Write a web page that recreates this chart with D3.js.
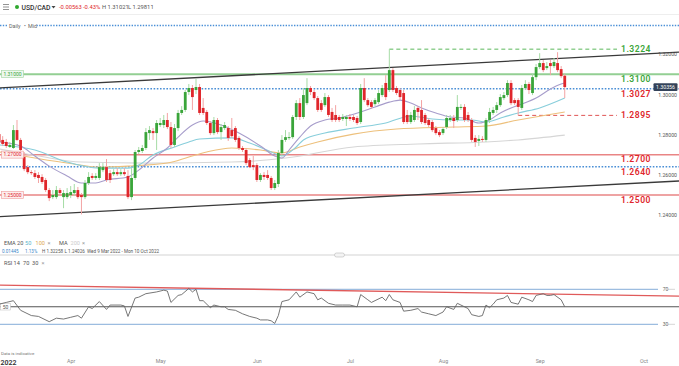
<!DOCTYPE html><html><head><meta charset="UTF-8"><script src="https://d3js.org/d3.v7.min.js"></script><style>
body { margin: 0; background: #fff; }
#chart { width: 679px; height: 366px; }
text { font-family: Roboto, "Liberation Sans", Arial, sans-serif; }
</style></head><body><div id="chart"></div><script>
// daily candles, 9 Mar 2022 onward (Sunday bars included): [open, high, low, close]
const ohlc = [
  [1.2802,1.2882,1.2753,1.2763],[1.2773,1.2792,1.2743,1.2753],[1.2763,1.2778,1.2733,1.2743],[1.2738,1.2763,1.2733,1.2748],
  [1.2733,1.2847,1.2728,1.2822],[1.2822,1.2872,1.2768,1.2773],[1.2773,1.2783,1.2713,1.2723],[1.2688,1.2713,1.2618,1.2628],
  [1.2638,1.2648,1.2603,1.2613],[1.2613,1.2623,1.2599,1.2608],[1.2608,1.2623,1.2579,1.2589],[1.2599,1.2613,1.2559,1.2584],
  [1.2589,1.2603,1.2554,1.2564],[1.2574,1.2584,1.2514,1.2524],[1.2524,1.2534,1.2469,1.2484],[1.2489,1.2524,1.2479,1.2499],
  [1.2489,1.2544,1.2479,1.2524],[1.2524,1.2534,1.2494,1.2509],[1.2489,1.2524,1.2434,1.2509],[1.2489,1.2534,1.2479,1.2509],
  [1.2499,1.2544,1.2484,1.2514],[1.2509,1.2554,1.2494,1.2524],[1.2524,1.2539,1.2479,1.2489],[1.2499,1.2509,1.2403,1.2489],
  [1.2489,1.2574,1.2479,1.2559],[1.2559,1.2613,1.2549,1.2589],[1.2594,1.2608,1.2574,1.2584],[1.2584,1.2608,1.2574,1.2594],
  [1.2584,1.2658,1.2574,1.2638],[1.2623,1.2658,1.2613,1.2638],[1.2638,1.2678,1.2564,1.2574],[1.2608,1.2623,1.2559,1.2574],
  [1.2603,1.2628,1.2594,1.2613],[1.2613,1.2633,1.2594,1.2603],[1.2603,1.2628,1.2594,1.2613],[1.2613,1.2633,1.2594,1.2603],
  [1.2594,1.2623,1.2479,1.2489],[1.2489,1.2633,1.2474,1.2584],[1.2584,1.2723,1.2574,1.2713],[1.2713,1.2738,1.2703,1.2723],
  [1.2718,1.2748,1.2708,1.2733],[1.2733,1.2832,1.2723,1.2812],[1.2807,1.2842,1.2773,1.2822],[1.2817,1.2832,1.2773,1.2807],
  [1.2807,1.2872,1.2723,1.2857],[1.2847,1.2882,1.2837,1.2857],[1.2847,1.2897,1.2832,1.2872],[1.2872,1.2907,1.2827,1.2837],
  [1.2837,1.2862,1.2733,1.2748],[1.2748,1.2852,1.2738,1.2832],[1.2832,1.2922,1.2817,1.2907],[1.2907,1.2941,1.2897,1.2922],
  [1.2922,1.3021,1.2912,1.3011],[1.3011,1.3051,1.2996,1.3031],[1.3031,1.3046,1.2922,1.2986],[1.3021,1.3076,1.3001,1.3036],
  [1.3036,1.3051,1.2897,1.2907],[1.2932,1.2981,1.2897,1.2907],[1.2912,1.2922,1.2847,1.2857],[1.2857,1.2867,1.2797,1.2807],
  [1.2807,1.2887,1.2797,1.2872],[1.2872,1.2882,1.2802,1.2812],[1.2812,1.2852,1.2773,1.2837],[1.2832,1.2862,1.2822,1.2847],
  [1.2832,1.2842,1.2768,1.2783],[1.2822,1.2882,1.2783,1.2792],[1.2832,1.2842,1.2763,1.2773],[1.2783,1.2792,1.2723,1.2733],
  [1.2733,1.2743,1.2713,1.2723],[1.2723,1.2733,1.2648,1.2658],[1.2673,1.2683,1.2633,1.2638],[1.2648,1.2693,1.2623,1.2638],
  [1.2648,1.2658,1.2564,1.2574],[1.2574,1.2608,1.2564,1.2599],[1.2599,1.2613,1.2574,1.2589],[1.2599,1.2623,1.2574,1.2584],
  [1.2584,1.2594,1.2524,1.2534],[1.2534,1.2574,1.2524,1.2559],[1.2554,1.2723,1.2539,1.2708],[1.2708,1.2797,1.2693,1.2773],
  [1.2773,1.2822,1.2763,1.2787],[1.2783,1.2812,1.2773,1.2787],[1.2787,1.2897,1.2778,1.2887],[1.2887,1.2971,1.2872,1.2956],
  [1.2956,1.2981,1.2872,1.2887],[1.2887,1.3031,1.2877,1.2996],[1.2956,1.3080,1.2946,1.3031],[1.3031,1.3041,1.2996,1.3011],
  [1.3011,1.3021,1.2971,1.2981],[1.2981,1.2991,1.2912,1.2922],[1.2956,1.2971,1.2912,1.2922],[1.2946,1.3006,1.2937,1.2986],
  [1.2986,1.2996,1.2887,1.2897],[1.2912,1.2932,1.2862,1.2872],[1.2897,1.2946,1.2862,1.2872],[1.2887,1.2897,1.2862,1.2872],
  [1.2877,1.2902,1.2867,1.2887],[1.2877,1.2897,1.2842,1.2887],[1.2887,1.2902,1.2867,1.2877],[1.2887,1.2897,1.2862,1.2872],
  [1.2882,1.2892,1.2847,1.2857],[1.2862,1.3051,1.2852,1.3031],[1.3031,1.3080,1.2961,1.2971],[1.2971,1.2981,1.2937,1.2946],
  [1.2961,1.2971,1.2927,1.2937],[1.2951,1.2981,1.2941,1.2971],[1.2961,1.3021,1.2951,1.3006],[1.2996,1.3046,1.2986,1.3031],
  [1.3056,1.3095,1.2971,1.2986],[1.3021,1.3224,1.3011,1.3120],[1.3120,1.3130,1.3011,1.3021],[1.3031,1.3041,1.2996,1.3006],
  [1.3021,1.3031,1.2971,1.2986],[1.3006,1.3021,1.2852,1.2862],[1.2897,1.2922,1.2852,1.2862],[1.2862,1.2912,1.2852,1.2897],
  [1.2872,1.2941,1.2862,1.2922],[1.2932,1.2941,1.2872,1.2912],[1.2922,1.2971,1.2852,1.2862],[1.2897,1.2907,1.2847,1.2857],
  [1.2872,1.2882,1.2837,1.2847],[1.2862,1.2872,1.2812,1.2822],[1.2832,1.2842,1.2797,1.2807],[1.2812,1.2822,1.2787,1.2797],
  [1.2807,1.2837,1.2797,1.2827],[1.2837,1.2897,1.2827,1.2882],[1.2872,1.2897,1.2862,1.2882],[1.2882,1.2897,1.2832,1.2867],
  [1.2872,1.2996,1.2862,1.2937],[1.2932,1.2951,1.2922,1.2937],[1.2937,1.2951,1.2862,1.2872],[1.2897,1.2912,1.2862,1.2872],
  [1.2872,1.2882,1.2763,1.2773],[1.2783,1.2797,1.2738,1.2763],[1.2768,1.2797,1.2743,1.2778],[1.2778,1.2792,1.2763,1.2773],
  [1.2773,1.2882,1.2763,1.2872],[1.2872,1.2932,1.2857,1.2912],[1.2907,1.2937,1.2897,1.2922],[1.2922,1.2961,1.2907,1.2946],
  [1.2946,1.3001,1.2937,1.2986],[1.2981,1.3011,1.2971,1.2996],[1.2996,1.3070,1.2986,1.3056],[1.3056,1.3070,1.2946,1.2956],
  [1.2971,1.2981,1.2946,1.2956],[1.2971,1.2981,1.2895,1.2937],[1.2932,1.3046,1.2922,1.3031],[1.3031,1.3070,1.3021,1.3051],
  [1.3051,1.3061,1.3001,1.3021],[1.3006,1.3100,1.2996,1.3085],[1.3085,1.3150,1.3070,1.3135],[1.3135,1.3204,1.3125,1.3155],
  [1.3155,1.3170,1.3110,1.3120],[1.3130,1.3160,1.3120,1.3140],[1.3155,1.3170,1.3095,1.3140],[1.3140,1.3180,1.3130,1.3160],
  [1.3155,1.3209,1.3110,1.3120],[1.3125,1.3140,1.3080,1.3090],[1.30919,1.31021,1.29811,1.30356]
];

// moving averages: [bar index, price]
const ema20 = [[0,1.2763],[6,1.2743],[10,1.2693],[14,1.2643],[19,1.2594],[23,1.2559],[27,1.2559],[30,1.2574],[36,1.2589],[39,1.2623],[43,1.2683],[47,1.2733],[50,1.2787],[54,1.2847],[57,1.2867],[62,1.2847],[67,1.2807],[73,1.2743],[77,1.2693],[79,1.2683],[81,1.2723],[84,1.2787],[87,1.2842],[91,1.2872],[95,1.2882],[101,1.2912],[105,1.2937],[109,1.2961],[112,1.2971],[115,1.2956],[118,1.2932],[122,1.2907],[126,1.2887],[130,1.2882],[134,1.2857],[137,1.2872],[140,1.2907],[143,1.2932],[146,1.2951],[150,1.2981],[154,1.3026],[157,1.3051],[158,1.3056]];
const ema50 = [[0,1.2748],[10,1.2723],[19,1.2663],[28,1.2633],[36,1.2633],[39,1.2648],[43,1.2698],[49,1.2738],[53,1.2763],[56,1.2778],[65,1.2783],[70,1.2758],[76,1.2713],[79,1.2693],[83,1.2738],[85,1.2773],[91,1.2807],[99,1.2832],[108,1.2857],[115,1.2892],[121,1.2877],[127,1.2872],[132,1.2872],[136,1.2862],[141,1.2887],[145,1.2907],[151,1.2932],[158,1.2981]];
const ema100 = [[0,1.2713],[10,1.2683],[19,1.2658],[28,1.2638],[36,1.2643],[47,1.2658],[53,1.2688],[58,1.2713],[65,1.2733],[73,1.2723],[79,1.2708],[84,1.2738],[89,1.2763],[99,1.2802],[111,1.2827],[127,1.2837],[136,1.2842],[145,1.2872],[153,1.2897],[158,1.2912]];
const ma200 = [[0,1.2728],[11,1.2693],[23,1.2663],[42,1.2658],[65,1.2663],[80,1.2683],[99,1.2738],[117,1.2753],[136,1.2763],[145,1.2773],[158,1.2797]];

// RSI(14): [bar index, value]
const rsi = [[0,53],[2,55],[4,57],[6,46],[9,40],[11,39],[14,33],[16,37],[18,36],[20,38],[22,40],[23,37],[25,50],[26,48],[28,56],[30,47],[31,52],[34,52],[35,51],[36,39],[38,60],[39,61],[41,65],[44,67],[46,69],[47,68],[48,55],[50,63],[51,64],[53,71],[54,67],[55,70],[56,57],[57,57],[59,49],[60,52],[62,50],[63,50],[64,47],[66,46],[68,42],[70,39],[72,37],[73,35],[75,35],[76,34],[77,31],[78,40],[79,56],[81,58],[83,67],[84,61],[86,67],[88,65],[89,58],[90,60],[92,54],[94,52],[96,52],[98,52],[100,50],[101,64],[103,58],[104,55],[107,61],[108,57],[109,64],[110,58],[112,55],[113,45],[115,46],[117,48],[118,44],[120,42],[122,40],[124,44],[125,50],[127,47],[128,54],[129,52],[131,48],[132,41],[134,39],[135,40],[136,52],[137,49],[138,53],[139,58],[141,60],[142,63],[143,55],[145,53],[146,61],[148,58],[149,56],[150,63],[152,65],[153,63],[154,63],[155,64],[157,58],[158,50]];

// drawn trend lines: [bar index, value]
const upperTrend = [[0,1.3031],[190,1.3209]];
const lowerTrend = [[0,1.2392],[190,1.2569]];
const rsiTrend = [[0,74.8],[190,62.2]];

// key levels and labels
const fullLevels = [1.3100, 1.3027, 1.2700, 1.2640, 1.2500];
const fullLabels = ["1.3100", "1.3027", "1.2700", "1.2640", "1.2500"];
const swingLevels = [1.3224, 1.2895];
const swingLabels = ["1.3224", "1.2895"];
const swingStart = [109, 145];
const tagLevels = [1.31, 1.27, 1.25];
const priceTicks = [1.32, 1.30, 1.28, 1.26, 1.24];
const lastPrice = 1.30356;
const monthLabels = ["Apr", "May", "Jun", "Jul", "Aug", "Sep", "Oct"];
const monthIdx = [20, 45, 72, 98, 124, 151, 180];

const green = '#3aa53a', red = '#e0262b';

const svg = d3.select('#chart').append('svg')
    .attr('width', 679)
    .attr('height', 366);

const x = d3.scaleLinear().domain([0, 190]).range([-0.9, 679.3]);
const y = d3.scaleLinear().domain([1.24, 1.32]).range([215, 54]);
const yR = d3.scaleLinear().domain([30, 70]).range([324.3, 289.3]);

// header
svg.append('line').attr('x1', 0).attr('x2', 679).attr('y1', 14.5).attr('y2', 14.5).attr('stroke', '#eee');
[4.5, 7, 9.5].forEach(v => svg.append('line').attr('x1', 3).attr('x2', 9).attr('y1', v).attr('y2', v).attr('stroke', '#777').attr('stroke-width', 0.8));
svg.append('circle').attr('cx', 17).attr('cy', 7).attr('r', 2).attr('fill', '#2ea82e');
svg.append('text').attr('x', 21.5).attr('y', 9.5).attr('font-size', 6.8).attr('font-weight', 500).attr('fill', '#333').text('USD/CAD');
svg.append('path').attr('d', 'M51.5,6 L55.5,6 L53.5,8.5 Z').attr('fill', '#444');
const head = svg.append('text').attr('y', 9.2).attr('font-size', 5.8);
head.append('tspan').attr('x', 59).attr('fill', red).text('-0.00563');
head.append('tspan').attr('x', 83).attr('fill', red).text('-0.43%');
head.append('tspan').attr('x', 102).attr('fill', '#555').text('H 1.31021');
head.append('tspan').attr('x', 128).attr('fill', '#555').text('L 1.29811');

// dotted top line with "Daily • Mid"
svg.append('line').attr('x1', 0).attr('x2', 679).attr('y1', 25.5).attr('y2', 25.5)
    .attr('stroke', '#4a8fd6').attr('stroke-width', 1.3).attr('stroke-dasharray', '1.4,1.4');
svg.append('rect').attr('x', 8).attr('y', 21).attr('width', 29).attr('height', 9).attr('fill', '#fff');
const dm = svg.append('text').attr('y', 27.6).attr('font-size', 5.4).attr('fill', '#666');
dm.append('tspan').attr('x', 9).text('Daily');
dm.append('tspan').attr('x', 24).text('•');
dm.append('tspan').attr('x', 28).text('Mid');

// main panel
const main = svg.append('g');
main.append('clipPath').attr('id', 'clipMain').append('rect').attr('x', 0).attr('y', 30).attr('width', 679).attr('height', 206);
const plot = main.append('g').attr('clip-path', 'url(#clipMain)');

// price axis on the right
const yAxis = main.append('g').attr('transform', 'translate(677,0)')
    .call(d3.axisLeft(y).tickValues(priceTicks).tickSize(0).tickPadding(0).tickFormat(d3.format('.5f')));
yAxis.select('.domain').remove();
yAxis.selectAll('text').attr('font-size', 5.2).attr('fill', '#555').attr('dy', '0.35em');

// full width levels
const fullStyle = [
  {stroke: '#93cf93', w: 2, dash: null, fill: green},
  {stroke: '#4a8fd6', w: 1.4, dash: '1.6,1.6', fill: red},
  {stroke: '#e98585', w: 1.5, dash: null, fill: red},
  {stroke: '#4a8fd6', w: 1.4, dash: '1.6,1.6', fill: red},
  {stroke: '#e98585', w: 1.5, dash: null, fill: red}
];
fullLevels.forEach((v, i) => {
  plot.append('line').attr('x1', 0).attr('x2', 679).attr('y1', y(v)).attr('y2', y(v))
      .attr('stroke', fullStyle[i].stroke).attr('stroke-width', fullStyle[i].w)
      .attr('stroke-dasharray', fullStyle[i].dash);
  main.append('text').attr('x', 621).attr('y', y(v) + 7.8).attr('font-size', 8.6)
      .attr('font-weight', 600).attr('letter-spacing', 0.5).attr('fill', fullStyle[i].fill).text(fullLabels[i]);
});

// swing high / low dashed levels
const swingColor = ['#5cb85c', '#e05555'];
swingLevels.forEach((v, i) => {
  plot.append('line').attr('x1', x(swingStart[i])).attr('x2', 617).attr('y1', y(v)).attr('y2', y(v))
      .attr('stroke', swingColor[i]).attr('stroke-width', 1).attr('stroke-dasharray', '4,3');
  main.append('text').attr('x', 621).attr('y', y(v) + 3).attr('font-size', 8.6)
      .attr('font-weight', 600).attr('letter-spacing', 0.5).attr('fill', i === 0 ? green : red).text(swingLabels[i]);
});

// trend lines
const tline = d3.line().x(d => x(d[0])).y(d => y(d[1]));
[upperTrend, lowerTrend].forEach(t => plot.append('path').attr('d', tline(t))
    .attr('fill', 'none').attr('stroke', '#3a3a3a').attr('stroke-width', 1.3));

// moving averages
const maLine = d3.line().x(d => x(d[0])).y(d => y(d[1])).curve(d3.curveMonotoneX);
[[ma200, '#d6d6d6'], [ema100, '#edc07c'], [ema50, '#88cedb'], [ema20, '#a79dcb']].forEach(m =>
  plot.append('path').attr('d', maLine(m[0])).attr('fill', 'none').attr('stroke', m[1]).attr('stroke-width', 1.1));

// candles
const candles = plot.append('g').selectAll('g').data(ohlc).enter().append('g');
candles.append('line')
    .attr('x1', (d, i) => x(i)).attr('x2', (d, i) => x(i))
    .attr('y1', d => y(d[1])).attr('y2', d => y(d[2]))
    .attr('stroke', d => d[3] >= d[0] ? '#a6dca6' : '#f3a3a3').attr('stroke-width', 1);
candles.append('rect')
    .attr('x', (d, i) => x(i) - 1.4).attr('width', 2.8)
    .attr('y', d => y(Math.max(d[0], d[3])))
    .attr('height', d => Math.max(1, Math.abs(y(d[0]) - y(d[3]))))
    .attr('fill', d => d[3] >= d[0] ? green : red);

// left tags
tagLevels.forEach(v => {
  const up = v > lastPrice;
  main.append('rect').attr('x', 1.5).attr('y', y(v) - 3.5).attr('width', 22).attr('height', 7)
      .attr('fill', up ? '#eef8ee' : '#fdeeee').attr('stroke', up ? '#9fd49f' : '#ee9a9a').attr('stroke-width', 0.6);
  main.append('text').attr('x', 12.5).attr('y', y(v) + 1.8).attr('text-anchor', 'middle')
      .attr('font-size', 5).attr('fill', up ? green : red).text(d3.format('.5f')(v));
});

// last price tag
main.append('rect').attr('x', 653.5).attr('y', y(lastPrice) - 3.8).attr('width', 24).attr('height', 7.6).attr('rx', 1)
    .attr('fill', '#34435a');
main.append('text').attr('x', 665.5).attr('y', y(lastPrice) + 1.9).attr('text-anchor', 'middle')
    .attr('font-size', 5.2).attr('fill', '#fff').text(d3.format('.5f')(lastPrice));

// indicator legend
const leg = svg.append('text').attr('y', 244.8).attr('font-size', 5.6).attr('fill', '#555');
leg.append('tspan').attr('x', 4).text('EMA');
leg.append('tspan').attr('x', 17).text('20');
leg.append('tspan').attr('x', 25).attr('fill', '#5bb5cc').text('50');
leg.append('tspan').attr('x', 35.5).attr('fill', '#e0a84f').text('100');
leg.append('tspan').attr('x', 47.5).attr('fill', '#999').text('×');
leg.append('tspan').attr('x', 59).text('MA');
leg.append('tspan').attr('x', 70.5).attr('fill', '#ccc').text('200');
leg.append('tspan').attr('x', 82).attr('fill', '#999').text('×');
const info = svg.append('text').attr('y', 253).attr('font-size', 4.6).attr('fill', '#555');
info.append('tspan').attr('x', 2).attr('fill', '#3b86c8').text('0.01445');
info.append('tspan').attr('x', 25).attr('fill', '#3b86c8').text('1.13%');
info.append('tspan').attr('x', 42).text('H 1.32258');
info.append('tspan').attr('x', 64.5).text('L 1.24026');
info.append('tspan').attr('x', 87).text('Wed 9 Mar 2022 - Mon 10 Oct 2022');

// panel separator
svg.append('line').attr('x1', 0).attr('x2', 679).attr('y1', 255).attr('y2', 255).attr('stroke', '#e2e2e2').attr('stroke-width', 1.5);
svg.append('rect').attr('x', 334.5).attr('y', 253).attr('width', 10).attr('height', 4).attr('rx', 2)
    .attr('fill', '#f4f4f4').attr('stroke', '#bbb').attr('stroke-width', 0.6);

// RSI panel
const rsiG = svg.append('g');
const rl = svg.append('text').attr('y', 264.6).attr('font-size', 5.6).attr('fill', '#555');
rl.append('tspan').attr('x', 4).text('RSI');
rl.append('tspan').attr('x', 13.5).text('14');
rl.append('tspan').attr('x', 23).text('70');
rl.append('tspan').attr('x', 32).text('30');
rl.append('tspan').attr('x', 41.5).attr('fill', '#999').text('×');

[70, 30].forEach(v => {
  rsiG.append('line').attr('x1', 0).attr('x2', 658).attr('y1', yR(v)).attr('y2', yR(v)).attr('stroke', '#9dbde0').attr('stroke-width', 1.2);
  rsiG.append('line').attr('x1', 668).attr('x2', 675).attr('y1', yR(v)).attr('y2', yR(v)).attr('stroke', '#bbb').attr('stroke-width', 0.6);
  rsiG.append('text').attr('x', 665.5).attr('y', yR(v) + 1.8).attr('text-anchor', 'middle').attr('font-size', 5).attr('fill', '#666').text(v);
});
rsiG.append('line').attr('x1', 0).attr('x2', 679).attr('y1', yR(50)).attr('y2', yR(50)).attr('stroke', '#555').attr('stroke-width', 1.1);
rsiG.append('rect').attr('x', 0.5).attr('y', yR(50) - 3.2).attr('width', 10).attr('height', 6.4).attr('fill', '#fff').attr('stroke', '#bbb').attr('stroke-width', 0.5);
rsiG.append('text').attr('x', 5.5).attr('y', yR(50) + 1.8).attr('text-anchor', 'middle').attr('font-size', 5).attr('fill', '#555').text('50');

rsiG.append('path').attr('d', d3.line().x(d => x(d[0])).y(d => yR(d[1]))(rsiTrend))
    .attr('fill', 'none').attr('stroke', '#e05a5a').attr('stroke-width', 1.3);
rsiG.append('path').attr('d', d3.line().x(d => x(d[0])).y(d => yR(d[1]))(rsi))
    .attr('fill', 'none').attr('stroke', '#666').attr('stroke-width', 0.9);

// time axis
svg.append('text').attr('x', 1).attr('y', 354.5).attr('font-size', 4.4).attr('fill', '#777').text('Data is indicative');
svg.append('text').attr('x', 0.5).attr('y', 364.5).attr('font-size', 7).attr('font-weight', 600).attr('fill', '#333').text('2022');
const xAxis = svg.append('g').attr('transform', 'translate(0,359)')
    .call(d3.axisBottom(x).tickValues(monthIdx).tickSize(0).tickPadding(0).tickFormat((d, i) => monthLabels[i]));
xAxis.select('.domain').remove();
xAxis.selectAll('text').attr('font-size', 5.3).attr('fill', '#888');
</script></body></html>
